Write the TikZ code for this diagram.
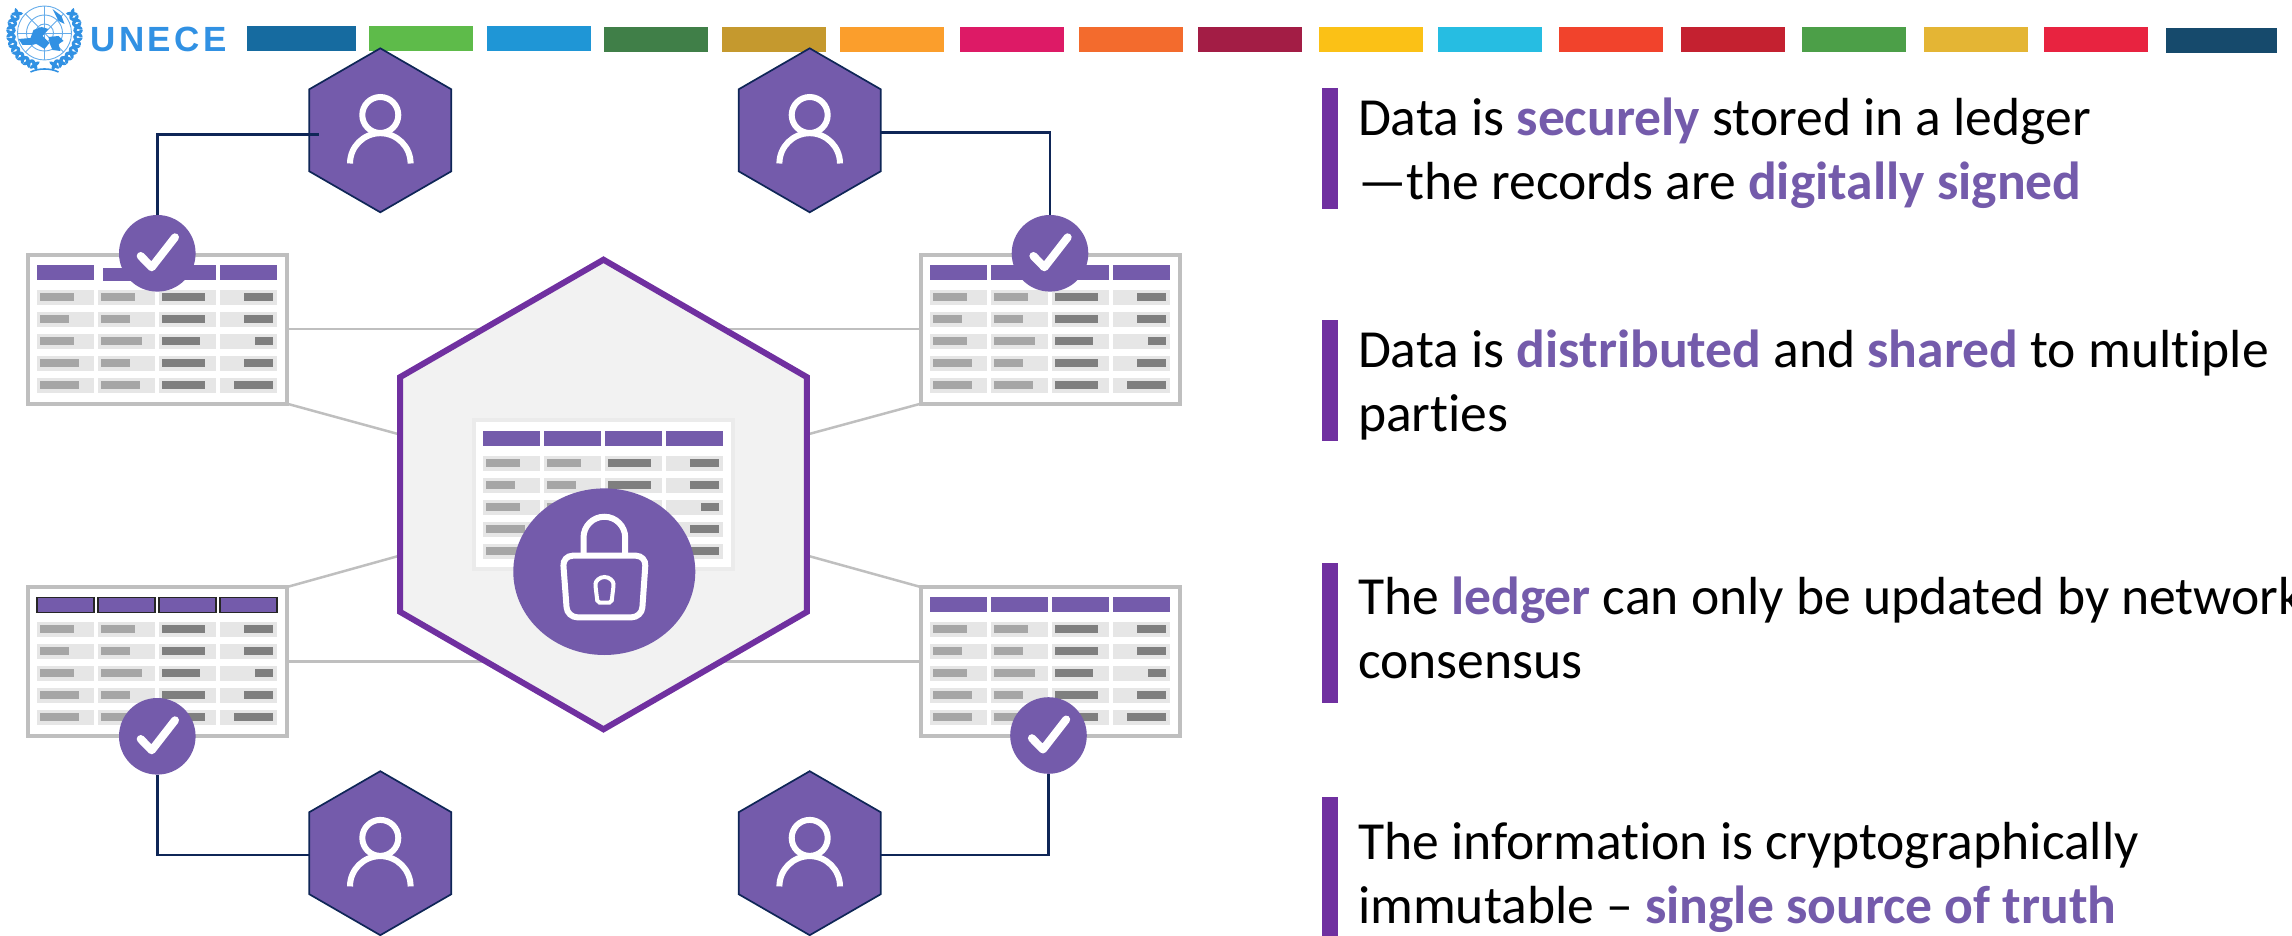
\documentclass[tikz,border=0pt]{standalone}
\usepackage{fontspec}
\setmainfont{Carlito}[Ligatures=NoCommon]
\newfontfamily\logofont[LetterSpace=10]{Liberation Sans}
\usetikzlibrary{shapes.geometric}
\definecolor{uviolet}{HTML}{745BAB}
\definecolor{deep}{HTML}{7030A0}
\definecolor{navy}{HTML}{0F2657}
\definecolor{frameg}{HTML}{BFBFBF}
\definecolor{rowg}{HTML}{E6E6E6}
\definecolor{midg}{HTML}{A6A6A6}
\definecolor{darkg}{HTML}{7F7F7F}
\definecolor{unblue}{HTML}{3191E3}
\newcommand{\kw}[1]{\textbf{\textcolor{uviolet}{#1}}}
\tikzset{
  userhex/.style={regular polygon,regular polygon sides=6,shape border rotate=30,minimum size=82pt,inner sep=0pt,outer sep=0pt,fill=uviolet,draw=navy,line width=0.85pt},
  hubhex/.style={regular polygon,regular polygon sides=6,shape border rotate=30,minimum size=234.8pt,inner sep=0pt,outer sep=0pt,fill=black!5,draw=deep,line width=3pt},
  badge/.style={circle,minimum size=38.3pt,inner sep=0pt,outer sep=0pt,fill=uviolet},
  lockdisc/.style={ellipse,minimum width=91pt,minimum height=83.3pt,inner sep=0pt,outer sep=0pt,fill=uviolet},
  tableframe/.style={rectangle,anchor=north west,minimum width=129.5pt,minimum height=74.5pt,inner sep=0pt,outer sep=0pt,fill=white,line width=2pt},
  conn/.style={draw=navy,line width=1.25pt},
  glink/.style={draw=frameg,line width=1.25pt},
  iconline/.style={draw=white,line width=3pt},
  tick/.style={draw=white,line width=4pt,line cap=round,line join=round},
  para/.style={anchor=base west,align=left,inner sep=0pt,outer sep=0pt,font=\fontsize{26.8}{32}\selectfont},
  sidebar/.style={fill=deep},
  hdr/.style={fill=uviolet},
  hdrline/.style={fill=uviolet,draw=black!85,line width=0.7pt},
  leaf/.style={fill=unblue},
  globeline/.style={draw=unblue!75,line width=0.45pt}
}
% name, x, y, frame colour, header style, 2nd header: x0, y0, y1
\newcommand{\ledger}[8]{%
  \node[tableframe,draw=#4] (#1) at (#2+2,#3+2) {};
  \begin{scope}[shift={(#2,#3)}]
    \fill[#5] (11,12.3) rectangle (68,27.3);
    \fill[#5] (#6,#7) rectangle (#6+57,#8);
    \fill[#5] (133,12.3) rectangle (190,27.3);
    \fill[#5] (194,12.3) rectangle (251,27.3);
    \foreach \ry/\a/\b/\c/\d in {37.3/48/109/179/218, 59.3/43/104/179/218, 81.3/48/116/174/229, 103.3/53/104/179/218, 125.3/53/114/179/208}{
      \fill[rowg] (11,\ry) rectangle (68,\ry+15);
      \fill[rowg] (72,\ry) rectangle (129,\ry+15);
      \fill[rowg] (133,\ry) rectangle (190,\ry+15);
      \fill[rowg] (194,\ry) rectangle (251,\ry+15);
      \fill[midg] (14,\ry+3) rectangle (\a,\ry+11);
      \fill[midg] (75,\ry+3) rectangle (\b,\ry+11);
      \fill[darkg] (136,\ry+3) rectangle (\c,\ry+11);
      \fill[darkg] (\d,\ry+3) rectangle (247,\ry+11);
    }
  \end{scope}
}
\newcommand{\personicon}[1]{%
  \begin{scope}[shift={(#1)}]
    \draw[iconline] (0,-15.3) circle (18);
    \draw[iconline] (-30.3,33.2) arc (180:360:30.3);
  \end{scope}
}
\newcommand{\tickmark}[1]{%
  \begin{scope}[shift={(#1)}]
    \draw[tick] (-16.6,2.7) -- (-5.6,14) -- (17.7,-16);
  \end{scope}
}
\begin{document}
\begin{tikzpicture}[x=0.5pt,y=-0.5pt]
\useasboundingbox (0,0) rectangle (2292,936);
% colour strip
\foreach \xa/\xb/\ya/\col in {247/356/26/166BA0,369/473/26/5EBB4A,487/591/26/1F96D6,604/708/27/407F48,722/826/27/C5992E,840/944/27/FB9E2C,960/1064/27/DD1A66,1079/1183/27/F36B2D,1198/1302/27/A31D45,1319/1423/27/FBC116,1438/1542/27/26BDE2,1559/1663/27/F1432C,1681/1785/27/C42130,1802/1906/27/4C9F48,1924/2028/27/E4B534,2044/2148/27/E82340,2166/2277/28/164A6C}{
  \definecolor{stripcol}{HTML}{\col}
  \fill[stripcol] (\xa,\ya) rectangle (\xb,\ya+25);
}
% emblem
\begin{scope}[shift={(44.5,33)}]
  \foreach \r in {9,18,27}{\draw[globeline] (0,0) circle (\r);}
  \draw[globeline] (-27,0) -- (27,0);
  \draw[globeline] (0,-27) -- (0,27);
  \draw[globeline] (-19,-19) -- (19,19);
  \draw[globeline] (-19,19) -- (19,-19);
  \fill[leaf] (-26,6) -- (-14,5) -- (-11,-3) -- (-3,-6) -- (4,-4) -- (-2,3) -- (5,10) -- (0,16) -- (-8,11) -- (-14,12) -- (-22,12) -- cycle;
  \fill[leaf] (4,4) -- (14,3) -- (19,8) -- (14,11) -- (16,18) -- (8,17) -- (5,10) -- cycle;
  \fill[leaf] (8,-24) -- (17,-17) -- (20,-9) -- (14,-12) -- cycle;
  \foreach \a in {145,157,169,181,193,205,217,229,241,253,35,23,11,-1,-13,-25,-37,-49,-61,-73}{
    \fill[leaf,rotate=\a,shift={(33.5,0)},rotate=38] (0,0) ellipse (6 and 1.9);
    \fill[leaf,rotate=\a,shift={(33.5,0)},rotate=-38] (0,0) ellipse (6 and 1.9);
  }
  \draw[unblue,line width=0.8pt] (-14,39) .. controls (-6,35) and (6,35) .. (14,39);
\end{scope}
\node[anchor=base west,inner sep=0pt,text=unblue,font=\logofont\bfseries\fontsize{17.5}{20}\selectfont] (logo) at (90,52) {UNECE};
% tables and badges beneath them
\coordinate (hubC) at (603.5,494.5);
\coordinate (hubSW) at (420,550);
\coordinate (hubNW) at (420,440);
\coordinate (hubSE) at (787,550);
\coordinate (hubNE) at (787,440);
\ledger{tblTL}{26}{252.7}{frameg}{hdr}{77}{15.3}{28.3}
\ledger{tblTR}{918.7}{252.7}{frameg}{hdr}{72}{12.3}{27.3}
\ledger{tblBL}{26}{585}{frameg}{hdrline}{72}{12.3}{27.3}
\ledger{tblBR}{918.7}{585}{frameg}{hdr}{72}{12.3}{27.3}
\draw[glink] (tblTL.east) -- (tblTL.east -| hubC);
\draw[glink] (tblTR.west) -- (tblTR.west -| hubC);
\draw[glink] (tblBL.east) -- (tblBL.east -| hubC);
\draw[glink] (tblBR.west) -- (tblBR.west -| hubC);
\draw[glink] (tblTL.south east) -- (hubNW);
\draw[glink] (tblTR.south west) -- (hubNE);
\draw[glink] (tblBL.north east) -- (hubSW);
\draw[glink] (tblBR.north west) -- (hubSE);
\node[hubhex] (hub) at (hubC) {};
\ledger{tblHub}{472}{418.3}{black!8}{hdr}{72}{12.3}{27.3}
\node[lockdisc] (lock) at (604.3,571.7) {};
\draw[iconline] (583.5,553.3) -- (583.5,537.6) arc (180:360:20.85) -- (625.2,553.3);
\draw[iconline,rounded corners=5pt] (562.7,555.7) -- (646,555.7) -- (641.7,617.3) -- (567.3,617.3) -- cycle;
\draw[draw=white,line width=2pt,rounded corners=1pt] (597.5,602.5) -- (595.5,586) arc (180:360:9) -- (611.5,602.5) -- cycle;
% users
\node[userhex] (hexTL) at (380.3,130.3) {};
\node[userhex] (hexTR) at (809.7,130.3) {};
\node[userhex] (hexBL) at (380.3,853.2) {};
\node[userhex] (hexBR) at (809.7,853.2) {};
\personicon{hexTL.center}
\personicon{hexTR.center}
\personicon{hexBL.center}
\personicon{hexBR.center}
\node[badge] (chkTL) at (157.3,253.3) {};
\node[badge] (chkTR) at (1050,253.3) {};
\node[badge] (chkBL) at (157.3,736.3) {};
\node[badge] (chkBR) at (1048.5,735.5) {};
\coordinate (tlStart) at (318.7,134.3);
\draw[conn] (tlStart) -| (chkTL.north);
\coordinate (trStart) at (880.3,132.3);
\draw[conn] (trStart) -| (chkTR.north);
\coordinate (blStart) at (309.7,855);
\draw[conn] (blStart) -| (chkBL.south);
\coordinate (brStart) at (880.3,855);
\draw[conn] (brStart) -| (chkBR.south);
\tickmark{chkTL.center}
\tickmark{chkTR.center}
\tickmark{chkBL.center}
\tickmark{chkBR.center}
% side bars and text
\fill[sidebar] (1322.3,88.3) rectangle (1338.3,209);
\fill[sidebar] (1322.3,320.3) rectangle (1338.3,440.7);
\fill[sidebar] (1322.3,563.3) rectangle (1338.3,702.7);
\fill[sidebar] (1322.3,797) rectangle (1338.3,936);
\node[para] (t1) at (1358,199.5) {Data is \kw{securely} stored in a ledger\\—the records are \kw{digitally signed}};
\node[para] (t2) at (1358,431.5) {Data is \kw{distributed} and \kw{shared} to multiple\\parties};
\node[para] (t3) at (1358,678.8) {The \kw{ledger} can only be updated by network\\consensus};
\node[para] (t4) at (1358,923.2) {The information is cryptographically\\immutable – \kw{single source of truth}};
\end{tikzpicture}
\end{document}
